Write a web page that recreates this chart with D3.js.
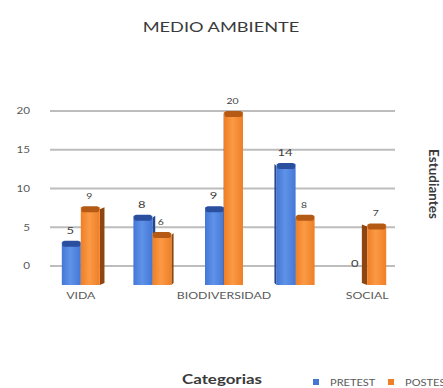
<!DOCTYPE html>
<html>
<head>
<meta charset="utf-8">
<script src="https://cdn.jsdelivr.net/npm/d3@7"></script>
<style>
  html, body { margin: 0; padding: 0; background: #fff; }
  svg { display: block; font-family: Lato, "Open Sans", sans-serif; }
</style>
</head>
<body>
<svg id="chart" width="443" height="388"></svg>
<script>
// Categories (only alternate labels are printed on the axis)
const categories = ["VIDA", "", "BIODIVERSIDAD", "", "SOCIAL"];
const seriesNames = ["PRETEST", "POSTEST"];
const pretest = [5, 8, 9, 14, 0];
const postest = [9, 6, 20, 8, 7];
const yTicks = [0, 5, 10, 15, 20];

const svg = d3.select("#chart");

// The lettering is set in a wide face: glyphs are stretched horizontally
const textStretch = 1.3;
function widen(sel) {
  sel.each(function () {
    const w = this.getComputedTextLength();
    if (w > 0) {
      this.setAttribute("textLength", w * textStretch);
      this.setAttribute("lengthAdjust", "spacingAndGlyphs");
    }
  });
}

const palette = {
  PRETEST: { light: "#5e93e8", mid: "#4577d6", dark: "#2a4f9f", side: "#24478f" },
  POSTEST: { light: "#fb9a45", mid: "#ee7f27", dark: "#b45a14", side: "#8e4610" }
};

// Gradients for the bar fronts
const defs = svg.append("defs");
seriesNames.forEach(s => {
  const g = defs.append("linearGradient").attr("id", "g-" + s)
    .attr("x1", "0").attr("x2", "1").attr("y1", "0").attr("y2", "0");
  g.append("stop").attr("offset", "0").attr("stop-color", palette[s].mid);
  g.append("stop").attr("offset", "0.45").attr("stop-color", palette[s].light);
  g.append("stop").attr("offset", "1").attr("stop-color", palette[s].mid);
});

// Back-wall scale (gridlines and tick labels)
const yWall = d3.scaleLinear().domain([0, 20]).range([266, 111]);
// Front-plane scale (bars, drawn slightly larger and lower in perspective)
const yFront = d3.scaleLinear().domain([0, 20]).range([285, 112]);

const x = d3.scaleBand().domain(d3.range(categories.length)).range([45, 403]);
const xs = d3.scaleBand().domain(seriesNames).range([0, 38]);
const groupOffset = (x.bandwidth() - 38) / 2;
const camX = 224;

// Title
svg.append("text").attr("x", 221).attr("y", 32).attr("text-anchor", "middle")
  .attr("font-size", 14).attr("fill", "#3a3a3a").text("MEDIO AMBIENTE").call(widen);

// Gridlines
svg.append("g").selectAll("line").data(yTicks).join("line")
  .attr("x1", 50).attr("x2", 395)
  .attr("y1", d => yWall(d)).attr("y2", d => yWall(d))
  .attr("stroke", "#bdbdbd").attr("stroke-width", 1.8);

// Y axis tick labels
const yAxis = d3.axisLeft(yWall).tickValues(yTicks).tickSize(0).tickPadding(0);
const gy = svg.append("g").attr("transform", "translate(30,0)").call(yAxis);
gy.select(".domain").remove();
gy.selectAll("text").attr("font-size", 9).attr("fill", "#595959")
  .attr("font-family", "Lato, sans-serif").call(widen);

// Bars
const bars = [];
categories.forEach((c, i) => {
  bars.push({ i, s: "PRETEST", v: pretest[i] });
  bars.push({ i, s: "POSTEST", v: postest[i] });
});
bars.forEach(b => {
  b.x0 = x(b.i) + groupOffset + xs(b.s);
  b.x1 = b.x0 + xs.bandwidth();
  b.cx = (b.x0 + b.x1) / 2;
  b.top = yFront(b.v);
  b.bot = yFront(0);
  b.sideW = Math.max(-6, Math.min(6, (b.cx - camX) * -0.035));
});
// Left-of-camera groups: draw pretest first; right-of-camera: posttest first
const order = bars.slice().sort((a, b) => {
  if (a.i !== b.i) return a.i - b.i;
  const right = x(a.i) + x.bandwidth() / 2 > camX;
  const ra = a.s === "PRETEST" ? 0 : 1, rb = b.s === "PRETEST" ? 0 : 1;
  return right ? rb - ra : ra - rb;
});

const gb = svg.append("g");
order.forEach(b => {
  if (b.v <= 0) return;
  const p = palette[b.s];
  const g = gb.append("g");
  const d = 2;
  if (b.sideW > 0) {
    g.append("path").attr("fill", p.side).attr("d",
      `M${b.x1},${b.top + 2} L${b.x1 + b.sideW},${b.top + 2 - d} L${b.x1 + b.sideW},${b.bot - d} L${b.x1},${b.bot} Z`);
  } else if (b.sideW < 0) {
    g.append("path").attr("fill", p.side).attr("d",
      `M${b.x0},${b.top + 2} L${b.x0 + b.sideW},${b.top + 2 - d} L${b.x0 + b.sideW},${b.bot - d} L${b.x0},${b.bot} Z`);
  }
  g.append("rect").attr("x", b.x0).attr("y", b.top).attr("width", b.x1 - b.x0)
    .attr("height", b.bot - b.top).attr("fill", `url(#g-${b.s})`);
  g.append("rect").attr("x", b.x0 + 0.5).attr("y", b.top - 1).attr("width", b.x1 - b.x0 - 1)
    .attr("height", 6).attr("rx", 2.5).attr("fill", p.dark);
});

// Value labels
svg.append("g").selectAll("text").data(bars).join("text")
  .attr("x", b => b.cx - (b.v === 0 ? 3 : 1))
  .attr("y", b => b.v === 0 ? yWall(0) + 1 : b.top - 8)
  .attr("text-anchor", "middle")
  .attr("font-size", b => b.s === "PRETEST" ? 10 : 8)
  .attr("fill", "#404040")
  .text(b => b.v)
  .call(widen);

// Category axis
const xAxis = d3.axisBottom(x).tickFormat(i => categories[i]).tickSize(0).tickPadding(0);
const gx = svg.append("g").attr("transform", "translate(0,299)").call(xAxis);
gx.select(".domain").remove();
gx.selectAll("text").attr("font-size", 9.5).attr("fill", "#595959")
  .attr("font-family", "Lato, sans-serif").attr("dy", 0).call(widen);

// Axis titles
svg.append("text").attr("x", 222).attr("y", 384).attr("text-anchor", "middle")
  .attr("font-size", 13).attr("font-weight", "bold").attr("fill", "#3a3a3a").text("Categorias").call(widen);
svg.append("text").attr("transform", "translate(429,184) rotate(90)").attr("text-anchor", "middle")
  .attr("font-size", 13.5).attr("font-weight", "bold").attr("fill", "#3a3a3a").text("Estudiantes");

// Legend
const legend = svg.append("g").attr("transform", "translate(313,379)");
const lx = [0, 75];
seriesNames.forEach((s, k) => {
  legend.append("rect").attr("x", lx[k]).attr("y", 0).attr("width", 6).attr("height", 6)
    .attr("fill", palette[s].mid);
  legend.append("text").attr("x", lx[k] + 17).attr("y", 6.5).attr("font-size", 8.5)
    .attr("fill", "#595959").text(s).call(widen);
});
</script>
</body>
</html>
